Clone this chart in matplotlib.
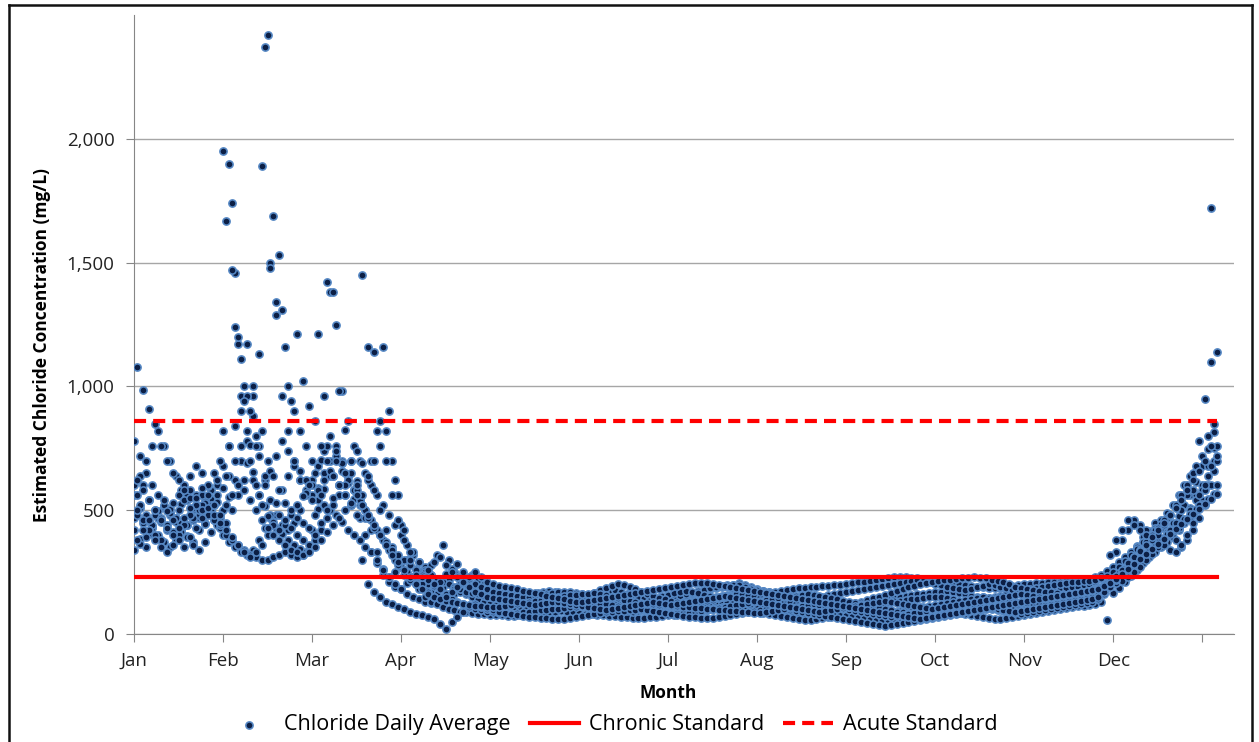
import numpy as np
import matplotlib
matplotlib.use("Agg")
import matplotlib.pyplot as plt
from matplotlib.lines import Line2D

# Daily chloride averages (mg/L), one list per year, read every second day.
# Years A, C, E, G, I, K start on day 0; years B, D, F, H, J, L start on day 1.
year_a = [420, 385, 350, 405, 470, 515, 490, 455, 430, 395, 370, 420, 480, 545, 600,
          1950, 1900, 1240, 960, 780, 655, 560, 515, 470, 430, 405, 380, 360, 345, 330,
          420, 505, 585, 640, 720, 690, 610, 545, 470, 400, 330, 285, 240, 210, 190,
          180, 205, 230, 255, 270, 240, 215, 190, 220, 250, 230, 200, 185, 170, 160,
          150, 142, 136, 130, 138, 146, 150, 143, 135, 128, 121, 125, 133, 140, 146,
          149, 151, 153, 147, 139, 132, 126, 120, 115, 112, 110, 108, 113, 119, 126,
          131, 138, 146, 153, 160, 167, 174, 180, 185, 189, 194, 199, 204, 199, 190,
          181, 175, 169, 165, 160, 154, 150, 147, 144, 140, 135, 131, 128, 125, 122,
          120, 117, 115, 120, 128, 134, 139, 142, 146, 150, 155, 158, 160, 163, 166,
          168, 170, 172, 169, 164, 160, 155, 151, 148, 146, 150, 155, 160, 162, 165,
          168, 171, 173, 175, 178, 180, 183, 185, 188, 191, 196, 202, 211, 226, 242,
          262, 281, 300, 328, 357, 392, 418, 447, 430, 412, 440, 478, 522, 563, 612,
          680, 748, 815]
year_b = [560, 602, 541, 480, 452, 498, 531, 562, 600, 638, 680, 652, 598, 521, 470,
          1670, 1470, 1170, 940, 762, 601, 520, 478, 452, 421, 440, 482, 520, 558, 600,
          650, 702, 758, 1380, 980, 822, 700, 618, 560, 622, 700, 758, 820, 700, 560,
          420, 332, 262, 221, 200, 192, 210, 241, 262, 282, 251, 222, 201, 190, 181,
          171, 166, 161, 158, 155, 151, 148, 152, 158, 162, 165, 168, 170, 168, 165,
          161, 158, 165, 176, 186, 195, 200, 197, 190, 181, 170, 161, 152, 146, 140,
          135, 131, 128, 126, 125, 128, 132, 138, 145, 150, 155, 160, 162, 158, 152,
          148, 145, 142, 138, 135, 130, 126, 122, 118, 115, 112, 110, 108, 110, 115,
          120, 125, 130, 138, 145, 151, 158, 165, 172, 180, 188, 195, 200, 205, 210,
          215, 218, 220, 222, 225, 228, 230, 228, 225, 220, 215, 210, 200, 191, 185,
          180, 176, 172, 170, 168, 165, 162, 160, 158, 160, 165, 170, 178, 186, 195,
          205, 215, 230, 250, 272, 300, 322, 350, 381, 410, 450, 500, 562, 650, 780,
          950, 1720, 1140]
year_c = [340, 362, 390, 432, 470, 512, 480, 451, 420, 390, 361, 340, 372, 410, 452,
          500, 552, 620, 700, 820, 1000, 1130, 2370, 1500, 1290, 960, 820, 700, 621, 580,
          562, 540, 521, 500, 480, 452, 420, 401, 380, 352, 330, 300, 262, 230, 200,
          180, 160, 150, 140, 130, 125, 130, 140, 150, 160, 170, 160, 150, 140, 130,
          125, 120, 115, 112, 110, 108, 105, 102, 100, 98, 96, 95, 98, 102, 106,
          110, 112, 115, 118, 120, 122, 125, 128, 130, 132, 130, 126, 122, 118, 115,
          112, 110, 108, 106, 105, 108, 112, 116, 120, 125, 130, 128, 124, 120, 115,
          110, 105, 100, 96, 92, 88, 85, 82, 80, 78, 76, 80, 85, 90, 95,
          100, 105, 110, 115, 118, 122, 125, 128, 132, 135, 138, 140, 142, 145, 148,
          150, 148, 145, 140, 135, 130, 125, 120, 118, 115, 112, 110, 108, 112, 118,
          122, 128, 132, 136, 140, 142, 145, 148, 150, 152, 155, 158, 165, 175, 190,
          210, 230, 250, 270, 290, 310, 330, 350, 370, 390, 410, 430, 450, 470, 500,
          540, 600, 660]
year_d = [480, 450, 420, 400, 380, 420, 460, 500, 540, 580, 560, 520, 490, 460, 430,
          400, 380, 360, 340, 320, 310, 300, 300, 310, 320, 330, 320, 310, 320, 340,
          380, 420, 470, 520, 560, 600, 650, 580, 520, 470, 430, 400, 370, 350, 320,
          300, 280, 260, 240, 220, 200, 180, 160, 140, 130, 120, 110, 100, 95, 90,
          88, 86, 85, 84, 86, 88, 90, 92, 95, 98, 100, 102, 105, 108, 110,
          112, 115, 118, 120, 122, 118, 114, 110, 106, 102, 98, 95, 92, 90, 88,
          86, 85, 84, 86, 88, 92, 96, 100, 104, 108, 112, 116, 120, 124, 128,
          132, 136, 140, 144, 148, 152, 155, 158, 160, 158, 155, 150, 145, 140, 135,
          130, 125, 120, 115, 110, 105, 100, 95, 90, 88, 86, 85, 88, 92, 96,
          100, 104, 108, 112, 116, 120, 124, 128, 132, 136, 140, 138, 135, 130, 128,
          125, 122, 120, 118, 120, 124, 128, 132, 136, 140, 145, 150, 160, 175, 200,
          330, 380, 420, 460, 440, 420, 400, 380, 360, 340, 330, 350, 380, 420, 470,
          520, 600, 700]
year_e = [780, 720, 650, 600, 560, 520, 490, 470, 450, 440, 460, 500, 540, 580, 620,
          680, 760, 840, 900, 1170, 960, 760, 620, 540, 480, 440, 420, 450, 500, 560,
          620, 680, 740, 800, 760, 700, 640, 580, 540, 500, 700, 820, 1160, 900, 620,
          440, 300, 220, 180, 150, 130, 120, 110, 100, 95, 90, 88, 85, 82, 80,
          78, 76, 75, 74, 73, 75, 78, 80, 82, 85, 88, 90, 92, 90, 88,
          85, 82, 80, 78, 76, 74, 72, 70, 68, 66, 65, 66, 68, 70, 72,
          75, 78, 82, 86, 90, 94, 98, 102, 106, 110, 108, 104, 100, 96, 92,
          88, 84, 80, 76, 72, 68, 64, 60, 58, 56, 60, 65, 70, 75, 80,
          78, 74, 70, 66, 62, 58, 55, 58, 62, 66, 70, 74, 78, 82, 86,
          90, 92, 94, 90, 86, 82, 78, 74, 70, 66, 62, 60, 64, 68, 72,
          76, 80, 84, 88, 92, 96, 100, 104, 108, 112, 115, 118, 122, 130, 58,
          165, 185, 210, 235, 260, 285, 310, 330, 350, 370, 390, 420, 460, 510, 560,
          600, 680, 750]
year_f = [1080, 985, 910, 850, 760, 700, 650, 620, 580, 550, 520, 500, 480, 460, 440,
          640, 1740, 1200, 1000, 900, 800, 1890, 700, 640, 580, 530, 500, 470, 450, 430,
          480, 560, 1420, 640, 600, 560, 520, 480, 300, 200, 170, 150, 130, 120, 110,
          100, 90, 80, 75, 70, 60, 40, 20, 50, 70, 90, 110, 120, 110, 100,
          95, 90, 85, 80, 76, 72, 70, 68, 66, 64, 62, 60, 62, 66, 70,
          74, 78, 82, 86, 88, 90, 92, 94, 96, 98, 100, 96, 92, 88, 84,
          80, 76, 72, 70, 68, 66, 64, 66, 70, 74, 78, 82, 86, 90, 94,
          98, 100, 102, 104, 100, 96, 92, 88, 84, 80, 76, 72, 68, 64, 60,
          56, 52, 48, 44, 40, 36, 34, 38, 42, 46, 50, 54, 58, 62, 66,
          70, 74, 78, 82, 86, 90, 94, 98, 102, 100, 96, 92, 88, 84, 80,
          84, 88, 92, 96, 100, 104, 108, 112, 116, 120, 124, 128, 140, 160, 190,
          220, 250, 280, 310, 340, 370, 400, 430, 460, 420, 380, 360, 400, 450, 520,
          580, 1100, 720]
year_g = [600, 640, 700, 760, 820, 760, 700, 640, 580, 540, 500, 470, 450, 520, 560,
          820, 760, 1460, 1110, 960, 880, 720, 640, 1480, 1340, 1310, 1000, 900, 820, 760,
          700, 1210, 960, 1380, 1250, 980, 860, 760, 700, 650, 600, 560, 520, 480, 440,
          400, 360, 320, 290, 260, 240, 220, 210, 200, 190, 180, 170, 165, 160, 155,
          150, 146, 148, 152, 150, 144, 138, 136, 140, 146, 150, 148, 142, 136, 130,
          126, 124, 128, 134, 140, 146, 150, 154, 156, 152, 146, 140, 136, 134, 138,
          142, 148, 154, 160, 166, 172, 178, 184, 188, 192, 196, 198, 196, 190, 182,
          176, 172, 170, 168, 172, 176, 180, 184, 186, 188, 190, 192, 194, 196, 198,
          200, 204, 208, 212, 216, 220, 224, 228, 230, 232, 230, 228, 226, 224, 220,
          216, 212, 208, 204, 200, 196, 192, 190, 188, 186, 184, 186, 190, 194, 198,
          200, 202, 204, 206, 208, 210, 212, 214, 216, 218, 220, 224, 230, 240, 255,
          270, 290, 310, 330, 350, 370, 400, 430, 460, 490, 520, 560, 600, 640, 680,
          720, 800, 850]
year_h = [500, 460, 420, 380, 350, 330, 360, 400, 440, 480, 520, 560, 600, 650, 700,
          450, 500, 560, 620, 700, 760, 820, 2420, 1690, 1530, 1160, 940, 1210, 1020, 920,
          860, 760, 700, 640, 600, 560, 520, 600, 1450, 1160, 1140, 860, 700, 560, 460,
          380, 300, 240, 200, 170, 150, 140, 135, 130, 125, 120, 118, 115, 112, 110,
          108, 110, 114, 118, 122, 126, 130, 134, 138, 142, 146, 150, 154, 156, 158,
          160, 162, 164, 160, 156, 150, 144, 138, 132, 128, 124, 122, 120, 118, 116,
          114, 112, 110, 108, 106, 104, 102, 100, 98, 96, 94, 92, 90, 88, 86,
          84, 88, 92, 96, 100, 104, 108, 112, 116, 120, 118, 114, 110, 106, 102,
          98, 94, 90, 86, 82, 78, 74, 70, 72, 76, 80, 84, 88, 92, 96,
          100, 104, 108, 112, 116, 120, 118, 114, 110, 106, 102, 98, 94, 90, 94,
          98, 102, 106, 110, 114, 118, 122, 126, 130, 134, 138, 142, 150, 170, 320,
          380, 420, 460, 440, 420, 400, 380, 400, 440, 480, 520, 560, 600, 580, 560,
          600, 680, 760]
year_i = [470, 510, 455, 430, 495, 540, 505, 470, 525, 560, 510, 480, 445, 500, 535,
          590, 640, 700, 760, 690, 620, 560, 600, 660, 720, 780, 740, 680, 620, 570,
          540, 590, 650, 700, 740, 690, 640, 580, 520, 470, 420, 330, 260, 230, 250,
          270, 300, 330, 290, 250, 280, 320, 360, 300, 250, 220, 200, 185, 175, 165,
          158, 162, 170, 176, 168, 160, 152, 156, 164, 170, 174, 168, 160, 150, 142,
          138, 142, 150, 158, 166, 172, 176, 170, 162, 156, 150, 144, 140, 146, 152,
          158, 164, 170, 174, 170, 164, 158, 152, 148, 152, 158, 164, 170, 176, 180,
          176, 170, 164, 158, 152, 146, 140, 136, 132, 138, 144, 150, 156, 162, 166,
          170, 174, 178, 182, 186, 190, 194, 198, 202, 206, 210, 214, 218, 214, 208,
          202, 196, 190, 186, 182, 178, 182, 188, 194, 200, 196, 190, 184, 178, 174,
          176, 180, 184, 188, 192, 196, 200, 204, 208, 212, 214, 216, 220, 226, 236,
          250, 270, 295, 320, 345, 370, 395, 420, 445, 470, 450, 430, 460, 500, 540,
          580, 640, 700]
year_j = [380, 420, 460, 500, 470, 440, 410, 380, 350, 390, 430, 470, 510, 480, 450,
          420, 390, 360, 330, 310, 330, 360, 400, 440, 480, 460, 430, 400, 380, 360,
          400, 450, 500, 550, 600, 650, 700, 740, 690, 640, 580, 500, 420, 340, 280,
          240, 220, 200, 230, 260, 290, 310, 280, 250, 230, 210, 190, 170, 160, 150,
          145, 140, 136, 132, 128, 124, 120, 118, 122, 126, 130, 128, 124, 120, 116,
          112, 108, 104, 100, 98, 102, 106, 110, 114, 118, 122, 126, 130, 126, 122,
          118, 122, 126, 130, 134, 138, 142, 146, 150, 154, 150, 146, 142, 138, 134,
          130, 126, 122, 118, 114, 110, 106, 102, 98, 94, 90, 94, 98, 102, 106,
          110, 114, 118, 122, 126, 130, 134, 130, 126, 122, 118, 114, 110, 106, 102,
          106, 110, 114, 118, 122, 126, 130, 134, 138, 142, 146, 150, 154, 158, 162,
          158, 154, 150, 146, 150, 154, 158, 162, 166, 170, 174, 178, 186, 198, 215,
          235, 260, 285, 310, 335, 360, 390, 420, 450, 480, 510, 540, 580, 620, 660,
          700, 760, 600]
year_k = [560, 520, 480, 440, 400, 370, 350, 380, 410, 440, 470, 500, 530, 480, 440,
          400, 370, 350, 330, 320, 340, 380, 430, 480, 530, 580, 640, 700, 660, 620,
          600, 580, 620, 660, 700, 660, 620, 580, 540, 500, 460, 420, 380, 340, 300,
          270, 250, 230, 210, 190, 170, 160, 150, 160, 180, 200, 220, 240, 220, 200,
          190, 182, 176, 170, 166, 162, 158, 154, 150, 146, 142, 138, 134, 130, 126,
          122, 118, 114, 110, 106, 102, 98, 95, 92, 90, 94, 98, 102, 106, 110,
          114, 118, 122, 126, 130, 134, 138, 142, 146, 150, 154, 158, 162, 166, 170,
          166, 162, 158, 154, 150, 146, 142, 138, 134, 130, 126, 122, 118, 114, 110,
          106, 102, 98, 94, 90, 86, 82, 86, 90, 94, 98, 102, 106, 110, 114,
          118, 122, 126, 130, 134, 138, 142, 146, 150, 146, 142, 138, 134, 130, 126,
          130, 134, 138, 142, 146, 150, 154, 158, 162, 166, 170, 174, 180, 190, 205,
          225, 245, 265, 285, 305, 325, 345, 365, 385, 405, 425, 445, 465, 485, 505,
          525, 545, 565]
year_l = [620, 580, 540, 500, 460, 430, 400, 430, 470, 510, 550, 590, 560, 520, 480,
          520, 560, 600, 580, 540, 500, 460, 430, 400, 380, 360, 340, 330, 320, 330,
          350, 380, 410, 440, 470, 500, 530, 560, 520, 480, 440, 400, 360, 320, 290,
          260, 230, 200, 180, 160, 150, 140, 150, 170, 190, 210, 230, 250, 230, 210,
          200, 195, 190, 185, 180, 175, 170, 165, 160, 155, 150, 145, 140, 135, 130,
          128, 132, 136, 140, 144, 148, 152, 156, 160, 164, 168, 172, 176, 180, 184,
          188, 192, 196, 200, 204, 206, 204, 200, 196, 192, 188, 184, 180, 176, 172,
          168, 164, 160, 156, 152, 148, 144, 140, 136, 132, 128, 124, 120, 116, 112,
          108, 104, 100, 96, 92, 88, 84, 80, 76, 72, 68, 64, 60, 64, 68,
          72, 76, 80, 84, 88, 92, 96, 100, 104, 108, 112, 116, 120, 124, 128,
          132, 136, 140, 144, 148, 152, 156, 160, 164, 168, 172, 176, 182, 192, 206,
          224, 244, 264, 284, 304, 324, 344, 364, 384, 404, 424, 444, 464, 484, 504,
          524, 544, 564]

even_years = [year_a, year_c, year_e, year_g, year_i, year_k]
odd_years = [year_b, year_d, year_f, year_h, year_j, year_l]

chronic_std = 230
acute_std = 860
months = ['Jan', 'Feb', 'Mar', 'Apr', 'May', 'Jun',
          'Jul', 'Aug', 'Sep', 'Oct', 'Nov', 'Dec', '']

plt.rcParams['font.family'] = ['Open Sans', 'DejaVu Sans']

fig = plt.figure(figsize=(12.59, 7.42), dpi=100)
ax = fig.add_axes([134 / 1259, 1 - 634 / 742, 1100 / 1259, 619 / 742])

days, conc = [], []
for vals in even_years:
    days.append(np.arange(len(vals)) * 2)
    conc.append(vals)
for vals in odd_years:
    days.append(np.arange(len(vals)) * 2 + 1)
    conc.append(vals)
days = np.concatenate(days)
conc = np.concatenate(conc)

ax.scatter(days, conc, s=27, c='#0c1f45', edgecolors='#5688c4', linewidths=1.15,
           zorder=3, label='Chloride Daily Average')
ax.plot([0, 365], [chronic_std, chronic_std], color='#ff0000', lw=3,
        zorder=4, label='Chronic Standard')
ax.plot([0, 365], [acute_std, acute_std], color='#ff0000', lw=3, dashes=(2.9, 1.7),
        zorder=4, label='Acute Standard')

ax.set_xlim(0, 370.7)
ax.set_ylim(0, 2500)
ax.set_xticks(np.arange(0, 361, 30))
ax.set_xticklabels(months)
ax.set_yticks([0, 500, 1000, 1500, 2000])
ax.set_yticklabels(['0', '500', '1,000', '1,500', '2,000'])
ax.grid(axis='y', color='#a6a6a6', lw=1)
ax.set_axisbelow(True)
for s in ['top', 'right']:
    ax.spines[s].set_visible(False)
for s in ['left', 'bottom']:
    ax.spines[s].set_color('#868686')
ax.tick_params(axis='both', colors='#868686', length=6, labelsize=13.5,
               labelcolor='#222222')
ax.tick_params(axis='x', pad=7)
ax.tick_params(axis='y', pad=8)

ax.set_xlabel('Month', fontsize=12.5, fontweight='bold')
ax.xaxis.set_label_coords((668 - 134) / 1100, -0.080)
ax.set_ylabel('Estimated Chloride Concentration (mg/L)', fontsize=12.5,
              fontweight='bold')
ax.yaxis.set_label_coords(-0.0755, 0.467)

ax.legend(loc='center', bbox_to_anchor=(0.4336, -0.147), ncol=3, frameon=False,
          fontsize=15.5, handlelength=2.3, columnspacing=0.9, handletextpad=0.45)

# outer frame of the original screenshot
for xs, ys in [([9 / 1259, 9 / 1259], [0, 1 - 5 / 742]),
               ([9 / 1259, 1252 / 1259], [1 - 5 / 742, 1 - 5 / 742]),
               ([1252 / 1259, 1252 / 1259], [0, 1 - 5 / 742])]:
    fig.add_artist(Line2D(xs, ys, color='#111111', lw=1.8))

fig.savefig('out.png', dpi=100)
